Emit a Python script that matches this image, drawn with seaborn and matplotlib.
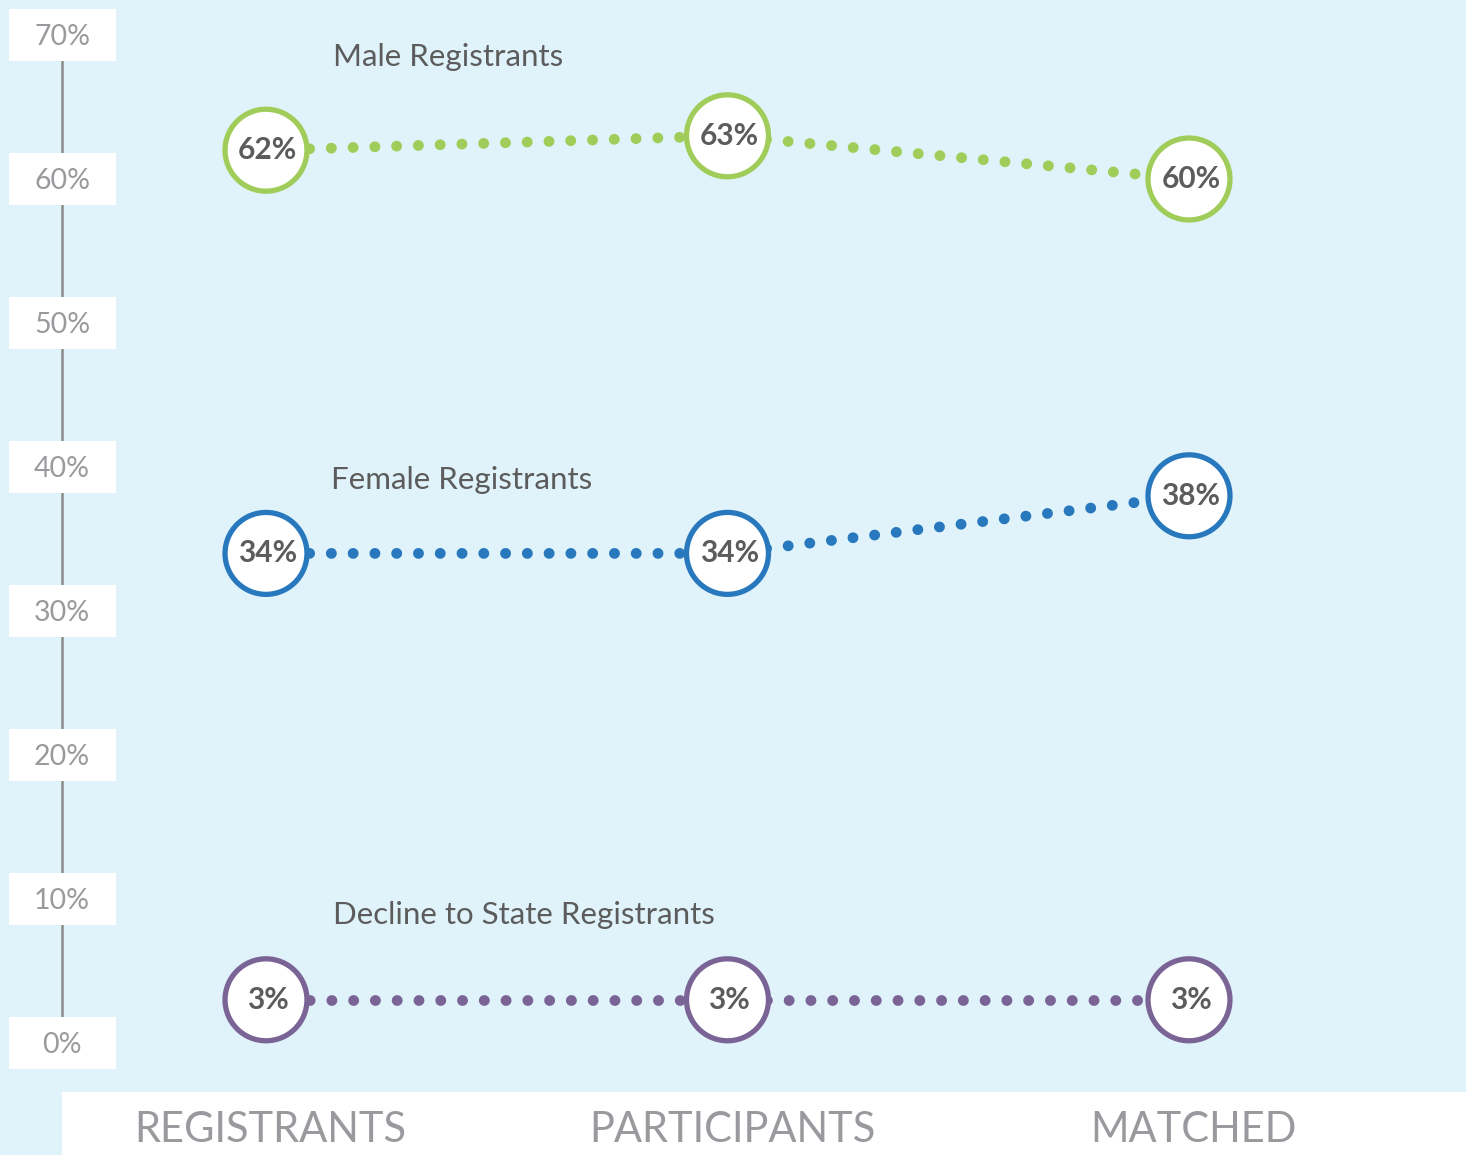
import pandas as pd
import matplotlib.pyplot as plt
import matplotlib.transforms as mtransforms
from matplotlib.patches import Rectangle
import seaborn as sns

# data
stages = ['REGISTRANTS', 'PARTICIPANTS', 'MATCHED']
male = [62, 63, 60]
female = [34, 34, 38]
decline = [3, 3, 3]
series_names = ['Male Registrants', 'Female Registrants', 'Decline to State Registrants']
y_ticks = [0, 10, 20, 30, 40, 50, 60, 70]

colors = ['#a0cd5a', '#2878be', '#7a6496']
bg = '#e0f3fa'
label_gray = '#5c5c5c'
tick_gray = '#9a9a9e'


def build_frame():
    rows = []
    for name, vals in zip(series_names, [male, female, decline]):
        for stage, v in zip(stages, vals):
            rows.append({'stage': stage, 'pct': v, 'series': name})
    return pd.DataFrame(rows)


def main():
    sns.set_theme(style='white')
    plt.rcParams['font.family'] = ['Lato', 'DejaVu Sans']

    df = build_frame()
    fig = plt.figure(figsize=(14.66, 11.55), dpi=100)
    fig.patch.set_facecolor(bg)
    ax = fig.add_axes([0, 0, 1, 1])
    ax.set_facecolor(bg)

    # dotted connecting lines
    for name, c in zip(series_names, colors):
        sub = df[df['series'] == name]
        sns.lineplot(data=sub, x='stage', y='pct', color=c, linewidth=7.8,
                     sort=False, ax=ax, zorder=2)
    for line in ax.lines:
        line.set_linestyle((0, (0.01, 2.0)))
        line.set_dash_capstyle('round')

    # circle markers
    sns.scatterplot(data=df, x='stage', y='pct', hue='series', palette=colors,
                    s=59 ** 2, linewidth=0, legend=False, ax=ax, zorder=3)
    coll = ax.collections[-1]
    edge = [colors[series_names.index(s)] for s in df['series']]
    coll.set_facecolor('white')
    coll.set_edgecolor(edge)
    coll.set_linewidth(3.8)

    for _, r in df.iterrows():
        ax.text(stages.index(r['stage']) + 0.004, r['pct'], f"{r['pct']}%",
                ha='center', va='center', fontsize=21.5, fontweight='bold',
                color=label_gray, zorder=4)

    # series titles
    title_pos = [(0.145, 68.5), (0.141, 39.1), (0.145, 8.9)]
    for name, (tx, ty) in zip(series_names, title_pos):
        ax.text(tx, ty, name, ha='left', va='center', fontsize=22.5,
                color=label_gray)

    # scale: category 0 at 266px, spacing 461.5px; 0% at 112px from bottom
    ax.set_xlim(-266 / 461.5, (1466 - 266) / 461.5)
    ax.set_ylim(-112 / 14.4, (1155 - 112) / 14.4)
    ax.axis('off')

    # y axis: line + white boxes
    yt = mtransforms.blended_transform_factory(ax.transAxes, ax.transData)
    ax.plot([62 / 1466, 62 / 1466], [0, 70], transform=yt, color='#8c8c8c',
            linewidth=1.8, zorder=1, solid_capstyle='butt')
    box_h = 52 / 14.4
    for t in y_ticks:
        ax.add_patch(Rectangle((9 / 1466, t - box_h / 2), 107 / 1466, box_h,
                               transform=yt, facecolor='white',
                               edgecolor='none', zorder=1.5))
        ax.text(62 / 1466, t - 0.15, f'{t}%', transform=yt, ha='center',
                va='center', fontsize=20.5, color=tick_gray, zorder=2)

    # bottom category band
    ax.add_patch(Rectangle((62 / 1466, 0), 1, 63 / 1155,
                           transform=ax.transAxes, facecolor='white',
                           edgecolor='none', zorder=1))
    xt = mtransforms.blended_transform_factory(ax.transData, ax.transAxes)
    for i, s in enumerate(stages):
        ax.text(i + 0.01, 25 / 1155, s, transform=xt, ha='center',
                va='center', fontsize=30, color=tick_gray, zorder=2)

    fig.savefig('out.png', dpi=100, facecolor=bg)


if __name__ == '__main__':
    main()
